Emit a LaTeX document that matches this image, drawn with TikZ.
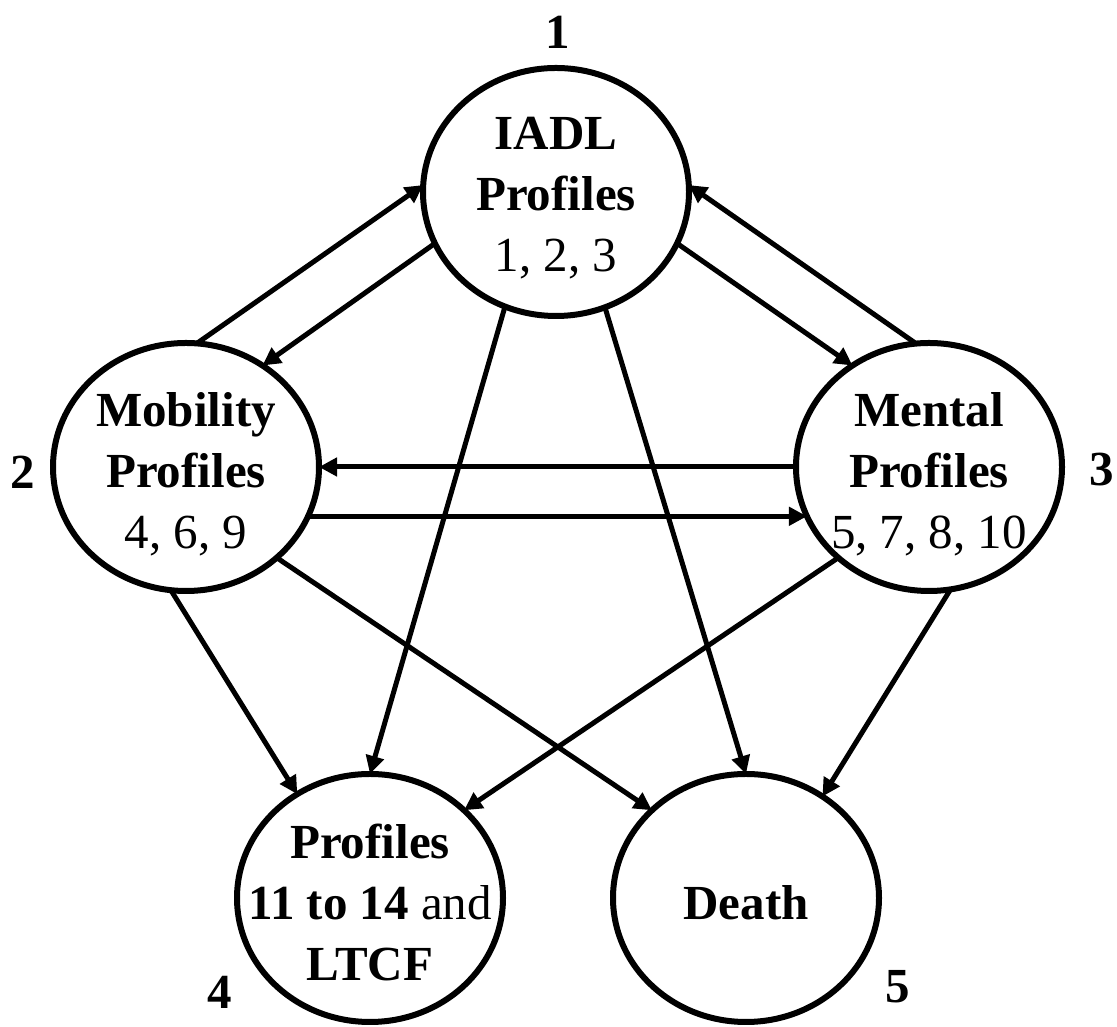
\documentclass[tikz,border=0pt]{standalone}
\usepackage{fontspec}
\setmainfont{Liberation Serif}
\usetikzlibrary{arrows.meta, shapes.geometric}

\begin{document}
\begin{tikzpicture}[x=1pt, y=1pt,
  state/.style={ellipse, draw, line width=6pt, minimum width=266pt,
                minimum height=248pt, inner sep=0pt, outer sep=0pt},
  lbl/.style={font=\fontsize{49}{61}\selectfont, align=center, inner sep=0pt},
  num/.style={font=\bfseries\fontsize{49}{59}\selectfont, inner sep=0pt},
  link/.style={line width=5pt, -{Triangle[length=18pt,width=18pt]}}
]
\useasboundingbox (0,0) rectangle (1117,1027);

% states
\node[state] (c1) at (556,835) {};
\node[state] (c2) at (186,560) {};
\node[state] (c3) at (929,560) {};
\node[state] (c4) at (370,129) {};
\node[state] (c5) at (746,129) {};

% state texts
\node[lbl, yshift=-6pt] (t1) at (c1) {\textbf{IADL}\\\textbf{Profiles}\\1, 2, 3};
\node[lbl, yshift=-7pt] (t2) at (c2) {\textbf{Mobility}\\\textbf{Profiles}\\4, 6, 9};
\node[lbl, yshift=-7pt] (t3) at (c3) {\textbf{Mental}\\\textbf{Profiles}\\5, 7, 8, 10};
\node[lbl, yshift=-4pt] (t4) at (c4) {\textbf{Profiles}\\\textbf{11 to 14} and\\\textbf{LTCF}};
\node[lbl, yshift=-5pt] (t5) at (c5) {\textbf{Death}};

% state numbers
\node[num] (n1) at (558,995) {1};
\node[num] (n2) at (23,555) {2};
\node[num] (n3) at (1102,557) {3};
\node[num] (n4) at (220,35) {4};
\node[num] (n5) at (898,40) {5};

% transitions
\draw[link] (c2.85)  -- (c1.177);
\draw[link] (c1.203) -- (c2.53);
\draw[link] (c3.96)  -- (c1.3);
\draw[link] (c1.-23) -- (c3.127);
\draw[link] (c3.west) -- (c2.east);
\draw[link] (c2.-22) -- (c3.202);
\draw[link] (c2.263) -- (c4.125);
\draw[link] (c1.246) -- (c4.north);
\draw[link] (c2.-45) -- (c5.137);
\draw[link] (c3.225) -- (c4.43);
\draw[link] (c1.-67) -- (c5.north);
\draw[link] (c3.-80) -- (c5.53);
\end{tikzpicture}
\end{document}
